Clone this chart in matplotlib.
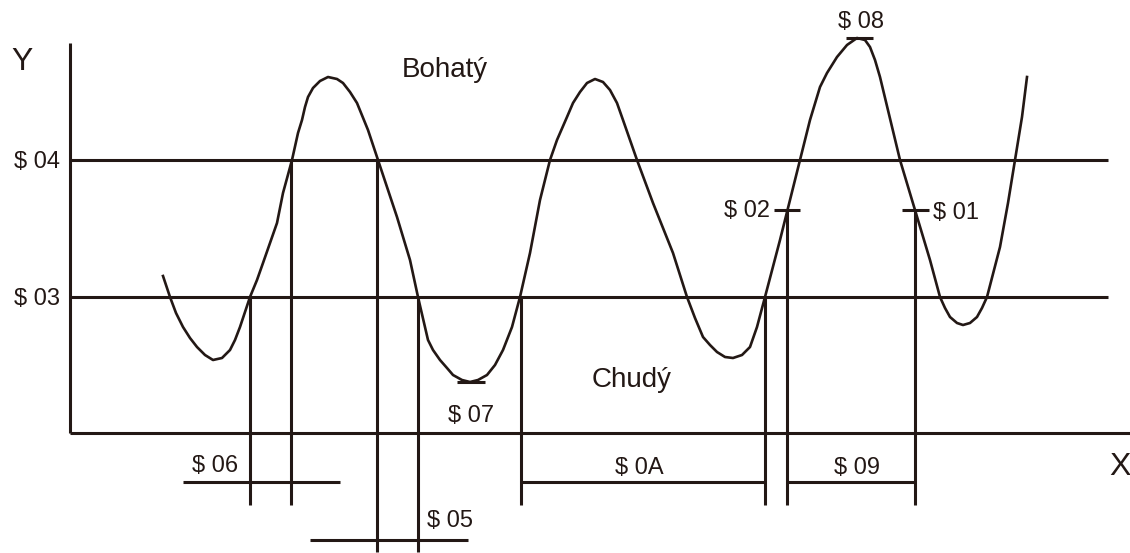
import matplotlib.pyplot as plt

# canvas units follow the picture: x to the right, y downward (0..1130, 0..553)
ink = '#231815'

# the wave, points
curve_x = [163, 170, 176, 183, 190, 197, 205, 213, 222, 230, 235, 240, 245, 250, 257,
           263, 270, 277, 283, 292, 298, 302, 305, 308, 313, 320, 328, 337, 343, 350,
           357, 368, 378, 397, 410, 418, 428, 433, 440, 447, 453, 462, 470, 478, 487,
           495, 503, 512, 520, 530, 540, 550, 557, 567, 573, 580, 587, 595, 603, 610,
           617, 623, 637, 653, 673, 687, 695, 703, 710, 717, 725, 733, 742, 750, 757,
           765, 780, 787, 800, 810, 820, 827, 837, 847, 857, 865, 870, 875, 880, 900,
           915, 930, 940, 945, 950, 957, 963, 970, 977, 982, 987, 1000, 1008, 1015, 1022,
           1027]
curve_y = [276, 297, 313, 327, 338, 347, 355, 360, 358, 350, 340, 327, 312, 297, 280,
           263, 243, 223, 193, 160, 133, 120, 107, 97, 88, 81, 77, 79, 83, 92,
           103, 130, 160, 217, 260, 297, 340, 350, 360, 368, 375, 380, 382, 380, 375,
           365, 350, 327, 297, 253, 200, 160, 140, 117, 103, 92, 83, 79, 82, 90,
           103, 120, 160, 203, 253, 297, 318, 337, 345, 352, 357, 358, 355, 347, 327,
           297, 240, 212, 160, 120, 87, 73, 57, 45, 38, 40, 47, 60, 77, 160,
           210, 260, 297, 308, 317, 323, 325, 323, 317, 308, 297, 247, 203, 160, 117,
           77]

# price levels
level_names = ['$ 04', '$ 03']
level_y = [160, 297]

# vertical drop lines: x, top, bottom
drop_x = [250, 291, 377, 418, 521, 765, 787, 915]
drop_top = [297, 160, 160, 297, 297, 297, 210, 210]
drop_bottom = [505, 505, 552, 552, 505, 505, 505, 505]

# horizontal bars: y, x start, x end
bar_y = [482, 540, 482, 482, 210, 210, 38, 382]
bar_x0 = [183, 310, 521, 787, 774, 902, 846, 457]
bar_x1 = [340, 468, 765, 915, 800, 929, 873, 485]

# small labels: text, x, y, alignment
label_text = ['$ 06', '$ 05', '$ 07', '$ 0A', '$ 09', '$ 08', '$ 02', '$ 01']
label_x = [215, 450, 471, 639, 857, 861, 770, 933]
label_y = [466, 521, 416, 468, 468, 22, 211, 213]
label_ha = ['center', 'center', 'center', 'center', 'center', 'center', 'right', 'left']

plt.rcParams['font.family'] = ['Liberation Sans', 'DejaVu Sans']

fig = plt.figure(figsize=(11.3, 5.53), dpi=100)
ax = fig.add_axes([0, 0, 1, 1])
ax.set_xlim(0, 1130)
ax.set_ylim(553, 0)
ax.axis('off')

# axes
ax.plot([70, 70], [43, 433], color=ink, lw=2.2, solid_capstyle='butt')
ax.plot([70, 1130], [433, 433], color=ink, lw=2.2, solid_capstyle='butt')

for y in level_y:
    ax.plot([70, 1108], [y, y], color=ink, lw=2.2, solid_capstyle='butt')

for x, t, b in zip(drop_x, drop_top, drop_bottom):
    ax.plot([x, x], [t, b], color=ink, lw=2.2, solid_capstyle='butt')

for y, a, b in zip(bar_y, bar_x0, bar_x1):
    ax.plot([a, b], [y, y], color=ink, lw=2.2, solid_capstyle='butt')

ax.plot(curve_x, curve_y, color=ink, lw=1.9, solid_joinstyle='round')

# text
ax.text(22, 62, 'Y', fontsize=23, color=ink, ha='center', va='center')
ax.text(1120, 467, 'X', fontsize=23, color=ink, ha='center', va='center')
for name, y in zip(level_names, level_y):
    ax.text(60, y + 2, name.replace('$', r'\$'), fontsize=17, color=ink,
            ha='right', va='center')
for s, x, y, ha in zip(label_text, label_x, label_y, label_ha):
    ax.text(x, y, s.replace('$', r'\$'), fontsize=17, color=ink, ha=ha, va='center')
ax.text(445, 70, 'Bohatý', fontsize=20, color=ink, ha='center', va='center')
ax.text(632, 380, 'Chudý', fontsize=20, color=ink, ha='center', va='center')

fig.savefig('out.png', dpi=100)
